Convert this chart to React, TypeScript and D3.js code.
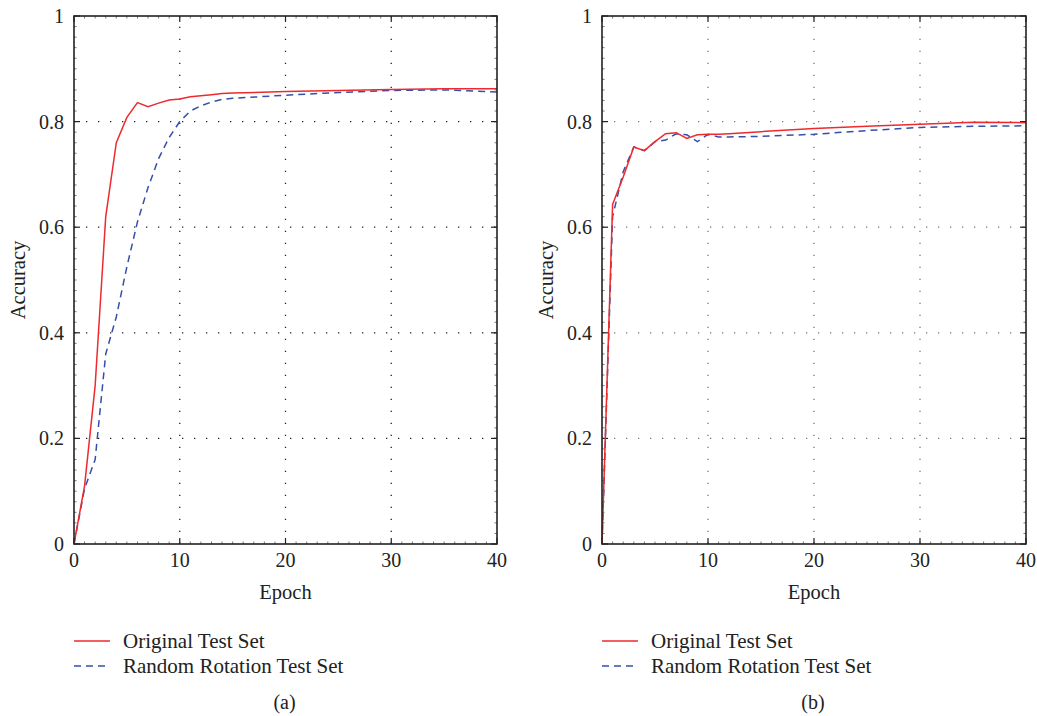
import React from 'react'
import * as d3 from 'd3'

const epochsA = [0, 1, 2, 3, 4, 5, 6, 7, 8, 9, 10, 11, 12, 13, 14, 15, 20, 25, 30, 35, 40]
const originalA = [0, 0.11, 0.30, 0.62, 0.76, 0.808, 0.836, 0.828, 0.835, 0.841, 0.843, 0.847, 0.849, 0.851, 0.853, 0.854, 0.857, 0.859, 0.861, 0.862, 0.862]
const rotationA = [0, 0.105, 0.16, 0.36, 0.43, 0.525, 0.61, 0.675, 0.73, 0.77, 0.80, 0.82, 0.83, 0.837, 0.842, 0.844, 0.850, 0.855, 0.859, 0.860, 0.856]

const epochsB = [0, 1, 2, 3, 4, 5, 6, 7, 8, 9, 10, 11, 12, 15, 20, 25, 30, 35, 40]
const originalB = [0, 0.643, 0.695, 0.752, 0.745, 0.762, 0.777, 0.779, 0.768, 0.775, 0.776, 0.776, 0.777, 0.781, 0.787, 0.791, 0.795, 0.799, 0.798]
const rotationB = [0, 0.62, 0.705, 0.752, 0.745, 0.762, 0.765, 0.777, 0.775, 0.762, 0.776, 0.771, 0.771, 0.772, 0.776, 0.783, 0.789, 0.791, 0.792]

const xTicks = [0, 10, 20, 30, 40]
const yTicks = [0, 0.2, 0.4, 0.6, 0.8, 1]
const seriesNames = ['Original Test Set', 'Random Rotation Test Set']

const font = '"Liberation Serif", "DejaVu Serif", serif'
const red = '#ee2a2e'
const blue = '#3450a8'

const Panel = ({ left, right, epochs, original, rotation, label, gridColor }) => {
    const top = 16, bottom = 544
    const x = d3.scaleLinear().domain([0, 40]).range([left, right])
    const y = d3.scaleLinear().domain([0, 1]).range([bottom, top])
    const line = d3.line().x(d => x(d[0])).y(d => y(d[1]))
    const pts = vals => epochs.map((e, i) => [e, vals[i]])
    const cx = (left + right) / 2

    return (
        <g fontFamily={font} fill="#222">
            {/* grid */}
            {xTicks.slice(1, -1).map(t => (
                <line key={'gx' + t} x1={x(t)} x2={x(t)} y1={bottom} y2={top}
                    stroke={gridColor} strokeWidth={1.3} strokeDasharray="1.3 10.7" />
            ))}
            {yTicks.slice(1, -1).map(t => (
                <line key={'gy' + t} x1={left} x2={right} y1={y(t)} y2={y(t)}
                    stroke={gridColor} strokeWidth={1.3} strokeDasharray="1.3 10.7" />
            ))}
            {/* minor ticks */}
            {d3.range(1, 40).map(t => (
                <g key={'mx' + t} stroke="#555" strokeWidth={0.8}>
                    <line x1={x(t)} x2={x(t)} y1={bottom} y2={bottom - 2.5} />
                    <line x1={x(t)} x2={x(t)} y1={top} y2={top + 2.5} />
                </g>
            ))}
            {d3.range(0.02, 1, 0.02).map(t => (
                <g key={'my' + t} stroke="#555" strokeWidth={0.8}>
                    <line x1={left} x2={left + 2.5} y1={y(t)} y2={y(t)} />
                    <line x1={right} x2={right - 2.5} y1={y(t)} y2={y(t)} />
                </g>
            ))}
            {/* major ticks */}
            {xTicks.map(t => (
                <g key={'tx' + t} stroke="#222" strokeWidth={1.2}>
                    <line x1={x(t)} x2={x(t)} y1={bottom} y2={bottom - 6} />
                    <line x1={x(t)} x2={x(t)} y1={top} y2={top + 6} />
                </g>
            ))}
            {yTicks.map(t => (
                <g key={'ty' + t} stroke="#222" strokeWidth={1.2}>
                    <line x1={left} x2={left + 6} y1={y(t)} y2={y(t)} />
                    <line x1={right} x2={right - 6} y1={y(t)} y2={y(t)} />
                </g>
            ))}
            {/* series */}
            <path d={line(pts(rotation))} fill="none" stroke={blue} strokeWidth={1.5} strokeDasharray="7 5" />
            <path d={line(pts(original))} fill="none" stroke={red} strokeWidth={1.5} />
            {/* frame */}
            <rect x={left} y={top} width={right - left} height={bottom - top}
                fill="none" stroke="#222" strokeWidth={1.6} />
            {/* tick labels */}
            {xTicks.map(t => (
                <text key={'lx' + t} x={x(t)} y={567} textAnchor="middle" fontSize={20}>{t}</text>
            ))}
            {yTicks.map(t => (
                <text key={'ly' + t} x={left - 10} y={y(t)} dy="0.35em" textAnchor="end" fontSize={20}>{t}</text>
            ))}
            <text x={cx} y={599} textAnchor="middle" fontSize={20.5}>Epoch</text>
            <text transform={`translate(${left - 49},${(top + bottom) / 2}) rotate(-90)`}
                textAnchor="middle" fontSize={20.5}>Accuracy</text>
            {/* legend */}
            <line x1={left} x2={left + 36} y1={641} y2={641} stroke={red} strokeWidth={1.5} />
            <text x={left + 49} y={641} dy="0.35em" fontSize={21}>{seriesNames[0]}</text>
            <line x1={left} x2={left + 36} y1={666} y2={666} stroke={blue} strokeWidth={1.5} strokeDasharray="7 5" />
            <text x={left + 49} y={666} dy="0.35em" fontSize={21}>{seriesNames[1]}</text>
            <text x={cx - 1} y={702} dy="0.35em" textAnchor="middle" fontSize={20}>{label}</text>
        </g>
    )
}

export default function App() {
    return (
        <svg width={1037} height={716} style={{ display: 'block', position: 'absolute', left: 0, top: 0, background: '#fff' }}>
            <Panel left={74} right={497} epochs={epochsA} original={originalA} rotation={rotationA} label="(a)" gridColor="#222" />
            <Panel left={602} right={1026} epochs={epochsB} original={originalB} rotation={rotationB} label="(b)" gridColor="#777" />
        </svg>
    )
}
